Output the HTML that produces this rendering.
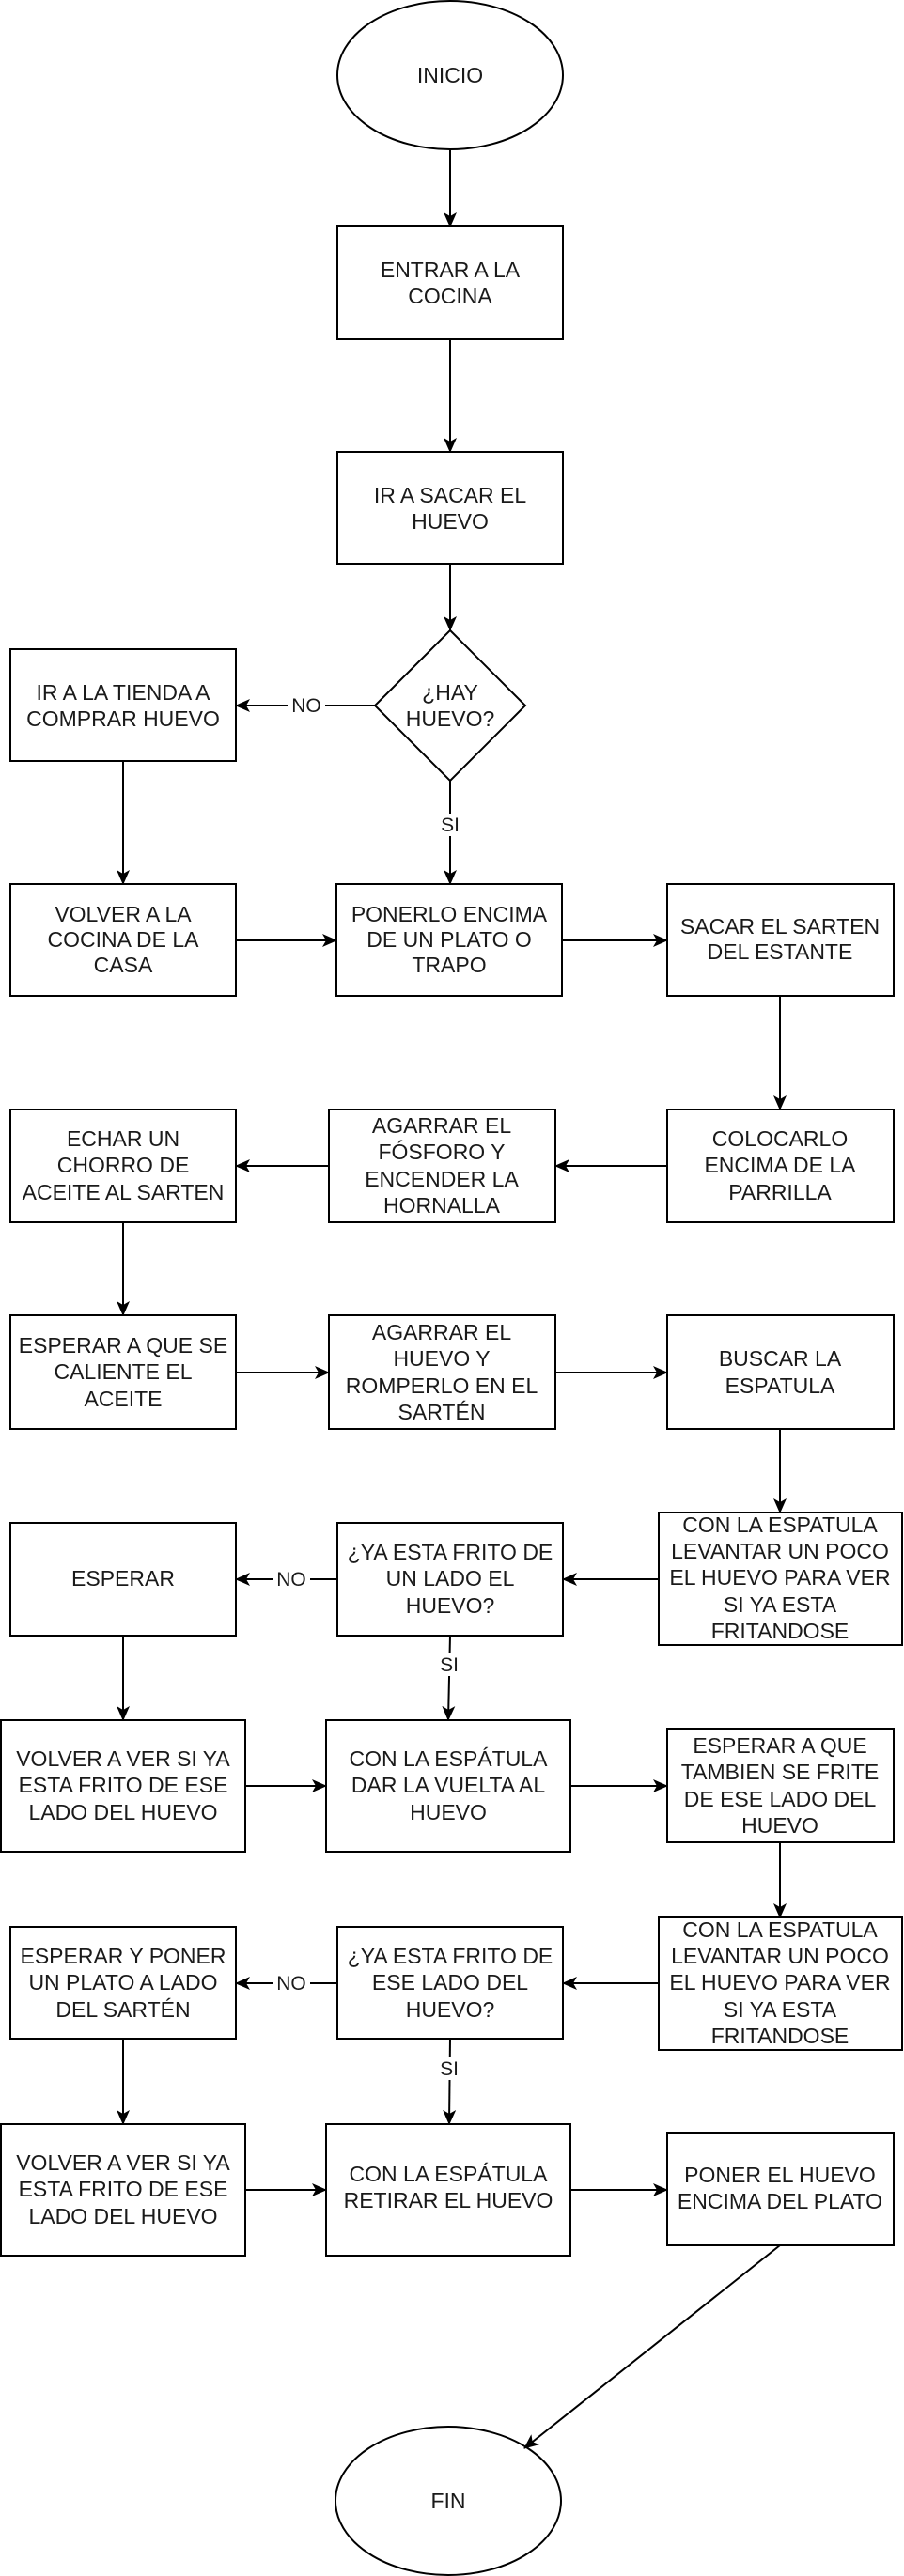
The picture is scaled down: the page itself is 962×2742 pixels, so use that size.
<!DOCTYPE html>
<html><head><meta charset="utf-8"><style>
html,body{margin:0;padding:0;background:#fff;}
svg{display:block;}
text{font-family:"Liberation Sans",Arial,sans-serif;font-size:23px;fill:#1a1a1a;text-anchor:middle;}
.b{fill:#fff;stroke:#000;stroke-width:2;}
.l{stroke:#000;stroke-width:2;fill:none;marker-end:url(#ah);}
.lab{font-size:21px;}
</style></head><body>
<svg width="962" height="2742" viewBox="0 0 962 2742" xmlns="http://www.w3.org/2000/svg">
<defs><marker id="ah" markerWidth="16" markerHeight="14" refX="15" refY="7" orient="auto" markerUnits="userSpaceOnUse"><path d="M0,0 L16,7 L0,14 L4,7 z" fill="#000"/></marker></defs>

<ellipse class="b" cx="479" cy="80" rx="120" ry="79"/>
<text x="479" y="88">INICIO</text>

<rect class="b" x="359" y="241" width="240" height="120"/>
<text x="479" y="295">ENTRAR A LA</text><text x="479" y="323">COCINA</text>

<rect class="b" x="359" y="481" width="240" height="119"/>
<text x="479" y="535">IR A SACAR EL</text><text x="479" y="563">HUEVO</text>

<polygon class="b" points="479,671 559,751 479,831 399,751"/>
<text x="479" y="745">¿HAY</text><text x="479" y="773">HUEVO?</text>

<rect class="b" x="11" y="691" width="240" height="119"/>
<text x="131" y="745">IR A LA TIENDA A</text><text x="131" y="773">COMPRAR HUEVO</text>

<rect class="b" x="11" y="941" width="240" height="119"/>
<text x="131" y="981">VOLVER A LA</text><text x="131" y="1008">COCINA DE LA</text><text x="131" y="1035">CASA</text>

<rect class="b" x="358" y="941" width="240" height="119"/>
<text x="478" y="981">PONERLO ENCIMA</text><text x="478" y="1008">DE UN PLATO O</text><text x="478" y="1035">TRAPO</text>

<rect class="b" x="710" y="941" width="241" height="119"/>
<text x="830" y="994">SACAR EL SARTEN</text><text x="830" y="1021">DEL ESTANTE</text>

<rect class="b" x="11" y="1181" width="240" height="120"/>
<text x="131" y="1220">ECHAR UN</text><text x="131" y="1248">CHORRO DE</text><text x="131" y="1277">ACEITE AL SARTEN</text>

<rect class="b" x="350" y="1181" width="241" height="120"/>
<text x="470" y="1206">AGARRAR EL</text><text x="470" y="1234">FÓSFORO Y</text><text x="470" y="1263">ENCENDER LA</text><text x="470" y="1291">HORNALLA</text>

<rect class="b" x="710" y="1181" width="241" height="120"/>
<text x="830" y="1220">COLOCARLO</text><text x="830" y="1248">ENCIMA DE LA</text><text x="830" y="1277">PARRILLA</text>

<rect class="b" x="11" y="1400" width="240" height="121"/>
<text x="131" y="1440">ESPERAR A QUE SE</text><text x="131" y="1468">CALIENTE EL</text><text x="131" y="1497">ACEITE</text>

<rect class="b" x="350" y="1400" width="241" height="121"/>
<text x="470" y="1426">AGARRAR EL</text><text x="470" y="1454">HUEVO Y</text><text x="470" y="1483">ROMPERLO EN EL</text><text x="470" y="1511">SARTÉN</text>

<rect class="b" x="710" y="1400" width="241" height="121"/>
<text x="830" y="1454">BUSCAR LA</text><text x="830" y="1483">ESPATULA</text>

<rect class="b" x="701" y="1610" width="259" height="141"/>
<text x="830" y="1631">CON LA ESPATULA</text><text x="830" y="1659">LEVANTAR UN POCO</text><text x="830" y="1687">EL HUEVO PARA VER</text><text x="830" y="1716">SI YA ESTA</text><text x="830" y="1744">FRITANDOSE</text>

<rect class="b" x="359" y="1621" width="240" height="120"/>
<text x="479" y="1660">¿YA ESTA FRITO DE</text><text x="479" y="1688">UN LADO EL</text><text x="479" y="1717">HUEVO?</text>

<rect class="b" x="11" y="1621" width="240" height="120"/>
<text x="131" y="1688">ESPERAR</text>

<rect class="b" x="1" y="1831" width="260" height="140"/>
<text x="131" y="1880">VOLVER A VER SI YA</text><text x="131" y="1908">ESTA FRITO DE ESE</text><text x="131" y="1937">LADO DEL HUEVO</text>

<rect class="b" x="347" y="1831" width="260" height="140"/>
<text x="477" y="1880">CON LA ESPÁTULA</text><text x="477" y="1908">DAR LA VUELTA AL</text><text x="477" y="1937">HUEVO</text>

<rect class="b" x="710" y="1840" width="241" height="121"/>
<text x="830" y="1866">ESPERAR A QUE</text><text x="830" y="1894">TAMBIEN SE FRITE</text><text x="830" y="1923">DE ESE LADO DEL</text><text x="830" y="1951">HUEVO</text>

<rect class="b" x="701" y="2041" width="259" height="141"/>
<text x="830" y="2062">CON LA ESPATULA</text><text x="830" y="2090">LEVANTAR UN POCO</text><text x="830" y="2118">EL HUEVO PARA VER</text><text x="830" y="2147">SI YA ESTA</text><text x="830" y="2175">FRITANDOSE</text>

<rect class="b" x="359" y="2051" width="240" height="119"/>
<text x="479" y="2090">¿YA ESTA FRITO DE</text><text x="479" y="2118">ESE LADO DEL</text><text x="479" y="2147">HUEVO?</text>

<rect class="b" x="11" y="2051" width="240" height="119"/>
<text x="131" y="2090">ESPERAR Y PONER</text><text x="131" y="2118">UN PLATO A LADO</text><text x="131" y="2147">DEL SARTÉN</text>

<rect class="b" x="1" y="2261" width="260" height="140"/>
<text x="131" y="2310">VOLVER A VER SI YA</text><text x="131" y="2338">ESTA FRITO DE ESE</text><text x="131" y="2367">LADO DEL HUEVO</text>

<rect class="b" x="347" y="2261" width="260" height="140"/>
<text x="477" y="2322">CON LA ESPÁTULA</text><text x="477" y="2350">RETIRAR EL HUEVO</text>

<rect class="b" x="710" y="2270" width="241" height="120"/>
<text x="830" y="2323">PONER EL HUEVO</text><text x="830" y="2351">ENCIMA DEL PLATO</text>

<ellipse class="b" cx="477" cy="2662" rx="120" ry="79"/>
<text x="477" y="2670">FIN</text>

<line class="l" x1="479" y1="160" x2="479" y2="241"/>
<line class="l" x1="479" y1="361" x2="479" y2="481"/>
<line class="l" x1="479" y1="600" x2="479" y2="671"/>
<line class="l" x1="399" y1="751" x2="251" y2="751"/>
<rect x="306" y="740" width="40" height="22" fill="#fff"/><text class="lab" x="326" y="758">NO</text>
<line class="l" x1="479" y1="831" x2="479" y2="941"/>
<rect x="467" y="866" width="24" height="24" fill="#fff"/><text class="lab" x="479" y="885">SI</text>
<line class="l" x1="131" y1="810" x2="131" y2="941"/>
<line class="l" x1="251" y1="1001" x2="358" y2="1001"/>
<line class="l" x1="598" y1="1001" x2="710" y2="1001"/>
<line class="l" x1="830" y1="1060" x2="830" y2="1181"/>
<line class="l" x1="710" y1="1241" x2="591" y2="1241"/>
<line class="l" x1="350" y1="1241" x2="251" y2="1241"/>
<line class="l" x1="131" y1="1301" x2="131" y2="1400"/>
<line class="l" x1="251" y1="1461" x2="350" y2="1461"/>
<line class="l" x1="591" y1="1461" x2="710" y2="1461"/>
<line class="l" x1="830" y1="1521" x2="830" y2="1610"/>
<line class="l" x1="701" y1="1681" x2="599" y2="1681"/>
<line class="l" x1="359" y1="1681" x2="251" y2="1681"/>
<rect x="290" y="1670" width="40" height="22" fill="#fff"/><text class="lab" x="310" y="1688">NO</text>
<line class="l" x1="131" y1="1741" x2="131" y2="1831"/>
<line class="l" x1="479" y1="1741" x2="477" y2="1831"/>
<rect x="466" y="1760" width="24" height="24" fill="#fff"/><text class="lab" x="478" y="1779">SI</text>
<line class="l" x1="261" y1="1901" x2="347" y2="1901"/>
<line class="l" x1="607" y1="1901" x2="710" y2="1901"/>
<line class="l" x1="830" y1="1961" x2="830" y2="2041"/>
<line class="l" x1="701" y1="2111" x2="599" y2="2111"/>
<line class="l" x1="359" y1="2111" x2="251" y2="2111"/>
<rect x="290" y="2100" width="40" height="22" fill="#fff"/><text class="lab" x="310" y="2118">NO</text>
<line class="l" x1="131" y1="2170" x2="131" y2="2261"/>
<line class="l" x1="479" y1="2170" x2="478" y2="2261"/>
<rect x="466" y="2190" width="24" height="24" fill="#fff"/><text class="lab" x="478" y="2209">SI</text>
<line class="l" x1="261" y1="2331" x2="347" y2="2331"/>
<line class="l" x1="607" y1="2331" x2="710" y2="2331"/>
<line class="l" x1="830" y1="2390" x2="558" y2="2606"/>
</svg>
</body></html>
